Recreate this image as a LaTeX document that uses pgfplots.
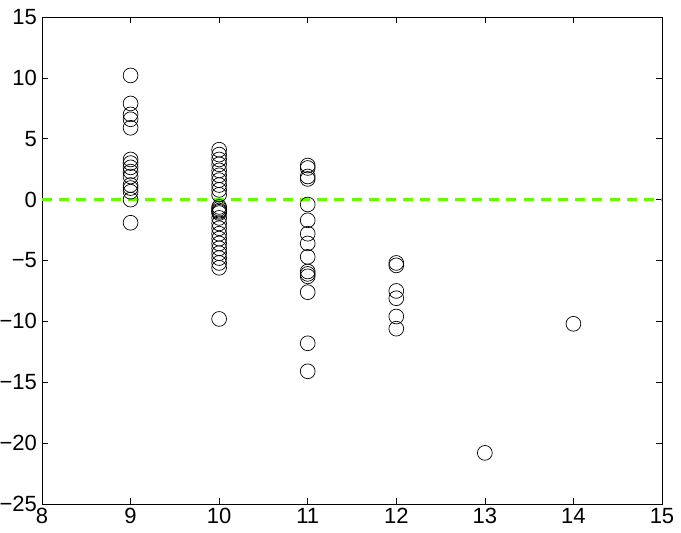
\documentclass[border=0pt]{standalone}
\usepackage{pgfplots}
\pgfplotsset{compat=1.18}
\usepackage{fontspec}
\setmainfont{Liberation Sans}
\definecolor{lgreen}{RGB}{100,250,0}
\begin{document}
\begin{tikzpicture}
\path[use as bounding box] (-21pt,-14pt) rectangle (319.5pt,252pt);
\begin{axis}[
  at={(0,0)}, anchor=south west,
  width=310pt, height=243.5pt, scale only axis,
  xmin=8, xmax=15, ymin=-25, ymax=15,
  xtick={8,...,15}, ytick={-25,-20,...,15},
  yticklabels={−25,−20,−15,−10,−5,0,5,10,15},
  xticklabels={8,9,10,11,12,13,14,15},
  tick align=inside, major tick length=3pt,
  tick style={line width=0.3pt, black},
  axis line style={line width=0.4pt},
  ticklabel style={font=\fontsize{11}{12}\selectfont},
  yticklabel style={xshift=1pt},
  xticklabel style={yshift=1.5pt},
  /pgf/number format/assume math mode=true,
  clip=false,
]
\addplot[lgreen, line width=1.4pt, dash pattern=on 5pt off 3.6pt] coordinates {(8,0) (15,0)};
\addplot[only marks, mark=o, mark size=3.7pt, mark options={line width=0.35pt, black}] coordinates {
(9,10.2) (9,7.9) (9,7.0) (9,6.6) (9,5.9)
(9,3.3) (9,3.0) (9,2.65) (9,2.3) (9,1.9) (9,1.2) (9,0.95) (9,0.65) (9,0.0) (9,-1.9)
(10,4.1) (10,3.7) (10,3.3) (10,2.9) (10,2.4) (10,2.0) (10,1.6) (10,1.2) (10,0.8) (10,0.4)
(10,-0.6) (10,-0.75) (10,-0.9) (10,-1.0) (10,-1.1) (10,-1.5) (10,-1.95) (10,-2.35) (10,-2.8) (10,-3.2)
(10,-3.6) (10,-4.0) (10,-4.4) (10,-4.8) (10,-5.2) (10,-5.6) (10,-9.8)
(11,2.8) (11,2.6) (11,1.9) (11,1.7) (11,-0.4) (11,-1.7) (11,-2.8) (11,-3.6) (11,-4.7)
(11,-5.9) (11,-6.1) (11,-6.3) (11,-7.6) (11,-11.8) (11,-14.1)
(12,-5.2) (12,-5.4) (12,-7.5) (12,-8.1) (12,-9.6) (12,-10.6)
(13,-20.8)
(14,-10.2)
};
\end{axis}
\end{tikzpicture}
\end{document}
